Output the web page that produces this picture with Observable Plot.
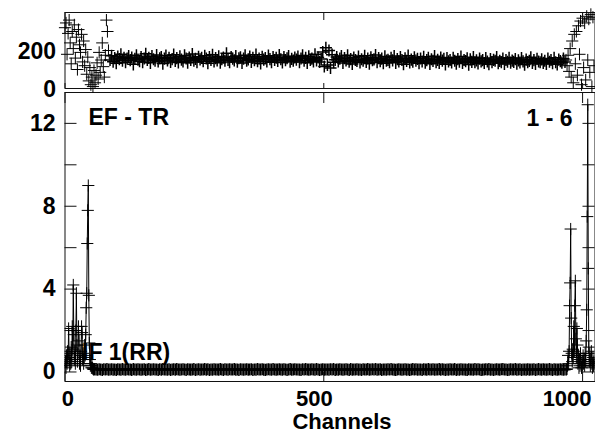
<!DOCTYPE html>
<html><head><meta charset="utf-8">
<script src="https://cdn.jsdelivr.net/npm/d3@7"></script>
<script src="https://cdn.jsdelivr.net/npm/@observablehq/plot@0.6"></script>
<style>
html,body{margin:0;padding:0;background:#fff;overflow:hidden;}
#wrap{position:relative;width:595px;height:434px;}
#wrap svg{position:absolute;left:0;top:0;}
</style></head><body><div id="wrap"></div>
<script>
// ---- data ----
const xTickValues = [0, 500, 1000];
const phaseTickValues = [0, 200];
const ampLabelValues = [0, 4, 8, 12];
const ampTickValues = [0, 2, 4, 6, 8, 10, 12];
const panelLabelLeft = "EF - TR";
const panelLabelRight = "1 - 6";
const panelLabelIF = "IF 1(RR)";
const xTitle = "Channels";

// phase (top panel): scattered edges, sampled every 2 channels
const phaseLeftStart = 0;
const phaseLeft = [320,345,180,290,360,240,130,300,210,335,160,270,100,310,230,190,285,140,250,120,205,75,165,40,110,20,60,10,95,30,70,135,50,190,85,150,240,115,60,175,360,300,200];
const phaseRightStart = 968;
const phaseRight = [150,120,175,90,210,60,250,30,285,130,300,70,330,180,355,20,370,110,345,45,380,150,365,85,390,10,375,120];
// phase middle, every 3 channels from 87
const phaseMidStart = 87;
const phaseMid = [
150,172,141,160,133,168,155,180,147,162,138,158,171,149,163,127,156,175,152,144,
166,139,158,183,150,161,135,170,154,147,176,142,159,165,131,157,173,148,162,140,
155,178,145,160,137,169,152,143,174,158,136,163,150,181,147,156,139,167,153,161,
144,172,158,133,165,151,177,142,160,148,169,136,155,163,146,185,150,139,166,157,
148,171,141,159,164,134,157,175,146,153,168,140,161,149,178,144,158,132,167,152,
160,143,173,155,138,166,150,162,145,176,154,137,165,149,159,170,141,156,147,163,
152,168,139,158,174,146,161,135,169,151,157,143,180,148,163,140,155,192,116,214,
124,200,108,178,138,151,166,142,157,171,134,160,148,175,141,155,129,163,150,145,
168,137,154,146,172,140,158,131,164,149,153,176,138,160,144,157,133,169,147,151,
139,162,148,171,135,155,143,166,150,128,159,145,173,137,152,141,164,147,156,133,
158,142,167,136,149,161,130,154,145,170,139,151,134,163,147,156,127,160,143,150,
137,162,146,131,155,141,168,135,150,144,159,126,153,140,165,138,148,132,157,143,
149,134,160,142,128,155,139,151,146,166,133,145,138,158,129,150,141,162,136,147,
140,155,131,148,137,160,143,126,152,139,145,164,134,149,130,156,142,138,153,135,
146,129,158,141,150,133,162,138,127,152,144,136,157,140];

// amplitude (bottom panel)
const ampLeftStart = 0; // every channel
const ampLeft = [0.3,0.5,0.2,0.8,0.4,1.0,0.6,2.1,0.9,0.3,0.7,0.4,1.2,0.5,2.2,1.1,4.2,1.8,0.6,1.0,0.4,2.0,3.8,1.3,0.5,0.9,2.2,1.5,0.4,0.8,0.3,1.0,2.2,1.9,0.6,0.9,0.4,0.7,1.3,0.8,1.8,3.1,3.8,6.2,7.8,9.0,3.7,1.4,0.6,0.3,0.4,0.2,0.3,0.2,0.15,0.13,0.12];
const ampMidStart = 57; // every 3 channels
const ampMid = [
0.14,0.12,0.11,0.13,0.12,0.10,0.13,0.12,0.14,0.11,0.12,0.13,0.11,0.12,0.10,0.13,0.12,0.11,0.14,0.12,
0.11,0.13,0.12,0.12,0.10,0.14,0.12,0.11,0.13,0.12,0.11,0.12,0.13,0.10,0.12,0.14,0.11,0.12,0.13,0.12,
0.12,0.10,0.13,0.11,0.14,0.12,0.12,0.11,0.13,0.10,0.12,0.13,0.11,0.14,0.12,0.11,0.12,0.13,0.12,0.10,
0.13,0.12,0.11,0.12,0.14,0.10,0.12,0.13,0.11,0.12,0.12,0.14,0.11,0.13,0.10,0.12,0.11,0.13,0.12,0.12,
0.11,0.14,0.12,0.10,0.13,0.12,0.11,0.13,0.12,0.12,0.14,0.11,0.12,0.10,0.13,0.12,0.11,0.12,0.13,0.11,
0.12,0.13,0.10,0.12,0.11,0.14,0.12,0.12,0.13,0.11,0.10,0.12,0.13,0.12,0.11,0.14,0.12,0.11,0.12,0.13,
0.12,0.11,0.13,0.12,0.10,0.12,0.14,0.11,0.12,0.13,0.12,0.12,0.11,0.10,0.13,0.12,0.14,0.12,0.11,0.12,
0.13,0.12,0.11,0.14,0.12,0.10,0.12,0.13,0.11,0.12,0.12,0.11,0.13,0.12,0.14,0.10,0.12,0.11,0.13,0.12,
0.11,0.12,0.13,0.12,0.10,0.14,0.11,0.12,0.12,0.13,0.11,0.12,0.10,0.13,0.12,0.12,0.14,0.11,0.12,0.13,
0.12,0.14,0.11,0.12,0.13,0.10,0.12,0.12,0.11,0.13,0.12,0.14,0.12,0.11,0.10,0.12,0.13,0.12,0.11,0.12,
0.13,0.11,0.12,0.10,0.12,0.14,0.12,0.13,0.11,0.12,0.12,0.10,0.13,0.12,0.11,0.14,0.12,0.12,0.13,0.11,
0.12,0.12,0.14,0.11,0.13,0.12,0.10,0.12,0.11,0.13,0.12,0.12,0.14,0.10,0.12,0.11,0.13,0.12,0.12,0.11,
0.10,0.13,0.12,0.12,0.11,0.14,0.12,0.13,0.12,0.10,0.11,0.12,0.13,0.12,0.14,0.11,0.12,0.10,0.12,0.13,
0.12,0.11,0.13,0.14,0.12,0.12,0.10,0.11,0.13,0.12,0.12,0.14,0.11,0.12,0.13,0.10,0.12,0.12,0.11,0.13,
0.11,0.12,0.12,0.13,0.10,0.12,0.14,0.12,0.11,0.13,0.12,0.11,0.12,0.14,0.12,0.10,0.13,0.12,0.11,0.12,
0.13,0.12,0.11,0.12];
const ampRightStart = 969; // every channel
const ampRight = [0.12,0.15,0.3,0.8,0.4,1.0,3.2,4.3,6.9,2.6,0.9,0.5,1.1,0.7,2.2,1.0,3.2,4.4,1.6,0.7,2.1,1.3,0.4,0.8,0.2,0.6,0.3,0.9,0.4,0.2,0.5,0.3,0.8,0.4,0.6,0.3,0.9,0.5,1.5,3.0,7.5,12.9,5.0,1.2,0.5,0.9,0.3,0.6,1.0,0.4,0.2,0.7,0.3,0.5,0.4];

// ---- build tables ----
const rows = (arr, start, step, mid) => arr.map((v, i) => ({ch: start + i * step, v, mid}));
const phaseData = [...rows(phaseLeft, phaseLeftStart, 2, false), ...rows(phaseMid, phaseMidStart, 3, true), ...rows(phaseRight, phaseRightStart, 2, false)];
const ampData = [...rows(ampLeft, ampLeftStart, 1, false), ...rows(ampMid, ampMidStart, 3, true), ...rows(ampRight, ampRightStart, 1, false)];

const W = 595, H = 434;
const ML = 64.5, MR = 0.5;
const frameW = W - ML - MR;
const font = "'Liberation Sans', Arial, Helvetica, sans-serif";
const baseStyle = {background: "transparent", overflow: "visible", fontFamily: font, fontSize: "23px", fontWeight: "bold", color: "black"};
const ink = "#111";
const lbl = {fontSize: 23, fontWeight: "bold", fill: "black", lineAnchor: "middle"};
const lblX = {fontSize: 22, fontWeight: "bold", fill: "black", lineAnchor: "middle"};
const R = 4; // plus marker size (~12px cross)
const sw = d => d.mid ? 1.5 : 1;

// top panel frame from y=12 to y=88
const topTop = 12, topBottom = 88;
const topH = topBottom - topTop;
const topPlot = Plot.plot({
  width: W, height: H,
  marginLeft: ML, marginRight: MR, marginTop: topTop, marginBottom: H - topBottom,
  style: baseStyle,
  x: {domain: [0, 1024], axis: null},
  y: {domain: [0, 400], axis: null},
  marks: [
    Plot.frame({stroke: ink}),
    Plot.dot(phaseData, {x: "ch", y: "v", symbol: "plus", r: R, stroke: "black", strokeWidth: sw}),
    Plot.tickX(xTickValues, {x: d => d, stroke: ink, insetBottom: topH - 8}),
    Plot.tickX(xTickValues, {x: d => d, stroke: ink, insetTop: topH - 5}),
    Plot.text(phaseTickValues, {y: d => d, text: d => String(d), frameAnchor: "left", dx: -9, dy: 1, textAnchor: "end", ...lbl})
  ]
});

// bottom panel frame from y=92 to y=381
const botTop = 92, botBottom = 381;
const botH = botBottom - botTop;
const botPlot = Plot.plot({
  width: W, height: H,
  marginLeft: ML, marginRight: MR, marginTop: botTop, marginBottom: H - botBottom,
  style: baseStyle,
  x: {domain: [0, 1024], axis: null},
  y: {domain: [-0.46, 13.49], axis: null},
  marks: [
    Plot.frame({stroke: ink}),
    Plot.tickY(ampTickValues, {y: d => d, stroke: ink, insetRight: frameW - 12}),
    Plot.tickY(ampTickValues, {y: d => d, stroke: ink, insetLeft: frameW - 12}),
    Plot.tickX(xTickValues, {x: d => d, stroke: ink, insetBottom: botH - 11}),
    Plot.tickX(xTickValues, {x: d => d, stroke: ink, insetTop: botH - 9}),
    Plot.line(ampData, {x: "ch", y: "v", stroke: "black", strokeWidth: 1, clip: true}),
    Plot.dot(ampData, {x: "ch", y: "v", symbol: "plus", r: R, stroke: "black", strokeWidth: sw, clip: true}),
    Plot.text(ampLabelValues, {y: d => d, text: d => String(d), frameAnchor: "left", dx: -9.5, textAnchor: "end", ...lbl}),
    Plot.text(xTickValues, {x: d => d, text: d => String(d), frameAnchor: "bottom", dy: 17.5, dx: 9, textAnchor: "end", ...lblX}),
    Plot.text([xTitle], {text: d => d, frameAnchor: "bottom", dx: 12, dy: 40.5, ...lblX}),
    Plot.text([panelLabelLeft], {text: d => d, frameAnchor: "top-left", dx: 23.5, dy: 25, textAnchor: "start", ...lbl}),
    Plot.text([panelLabelRight], {text: d => d, frameAnchor: "top-right", dx: -22.5, dy: 26, textAnchor: "end", ...lbl}),
    Plot.text([panelLabelIF], {text: d => d, frameAnchor: "bottom-left", dx: 17, dy: -29, textAnchor: "start", ...lbl})
  ]
});

const wrap = document.getElementById("wrap");
wrap.appendChild(botPlot);
wrap.appendChild(topPlot);
</script></body></html>
